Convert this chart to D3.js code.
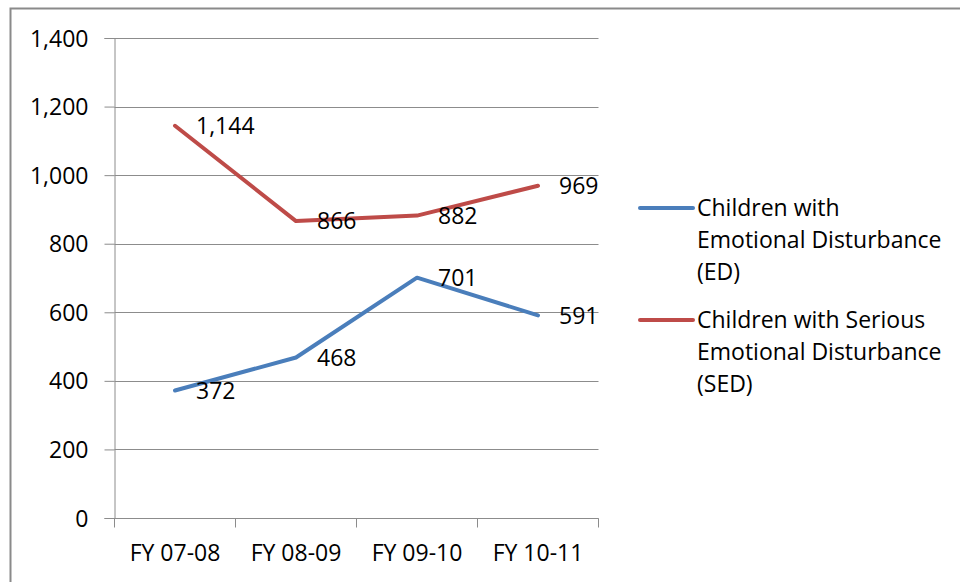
<!DOCTYPE html>
<html>
<head>
<meta charset="utf-8">
<script src="https://cdn.jsdelivr.net/npm/d3@7"></script>
<style>
  html, body { margin: 0; padding: 0; background: #fff; }
  svg { display: block; }
  text { font-family: "Open Sans", "Noto Sans", sans-serif; fill: #000; }
</style>
</head>
<body>
<svg id="chart" width="960" height="582"></svg>
<script>
const categories = ["FY 07-08", "FY 08-09", "FY 09-10", "FY 10-11"];
const seriesNames = [
  ["Children with", "Emotional Disturbance", "(ED)"],
  ["Children with Serious", "Emotional Disturbance", "(SED)"]
];
const edValues = [372, 468, 701, 591];
const sedValues = [1144, 866, 882, 969];
const yTicks = [0, 200, 400, 600, 800, 1000, 1200, 1400];
const seriesColors = ["#4a7ebb", "#be4b48"];

const series = [
  { name: seriesNames[0], values: edValues, color: seriesColors[0] },
  { name: seriesNames[1], values: sedValues, color: seriesColors[1] }
];

const svg = d3.select("#chart");
const FS = 23;

// outer frame
svg.append("path")
  .attr("d", "M10.5,582 L10.5,8.5 L960,8.5")
  .attr("fill", "none").attr("stroke", "#8a8a8a").attr("stroke-width", 2);

const plot = { left: 114.5, right: 598.5, top: 38, bottom: 518 };

const x = d3.scaleBand().domain(categories).range([plot.left, plot.right]).padding(0);
const y = d3.scaleLinear().domain([0, 1400]).range([plot.bottom, plot.top]);

// gridlines
svg.append("g").selectAll("line").data(yTicks).join("line")
  .attr("x1", plot.left).attr("x2", plot.right)
  .attr("y1", d => Math.round(y(d)) + 0.5).attr("y2", d => Math.round(y(d)) + 0.5)
  .attr("stroke", "#8c8c8c").attr("stroke-width", 1);

// y axis
const yAxis = svg.append("g").attr("transform", `translate(${plot.left},0)`)
  .call(d3.axisLeft(y).tickValues(yTicks).tickSize(10).tickPadding(16)
    .tickFormat(d3.format(",")));
yAxis.select(".domain").attr("stroke", "#8c8c8c");
yAxis.selectAll(".tick line").attr("stroke", "#8c8c8c");
yAxis.selectAll(".tick text").attr("font-size", FS).attr("font-family", "Open Sans").attr("fill", "#000").attr("dy", "0.35em");

// x axis
const xAxisG = svg.append("g").attr("transform", `translate(0,${plot.bottom + 0.5})`);
xAxisG.append("line").attr("x1", plot.left).attr("x2", plot.right)
  .attr("stroke", "#8c8c8c");
const bounds = categories.map(c => x(c)).concat([x(categories[categories.length - 1]) + x.bandwidth()]);
xAxisG.selectAll("line.tk").data(bounds).join("line").attr("class", "tk")
  .attr("x1", d => d).attr("x2", d => d).attr("y1", 0).attr("y2", 9)
  .attr("stroke", "#8c8c8c");
xAxisG.selectAll("text").data(categories).join("text")
  .attr("x", d => x(d) + x.bandwidth() / 2).attr("y", 42)
  .attr("text-anchor", "middle").attr("font-size", FS).text(d => d);

// lines
const line = d3.line()
  .x((d, i) => x(categories[i]) + x.bandwidth() / 2)
  .y(d => y(d));

series.forEach(s => {
  svg.append("path").datum(s.values)
    .attr("d", line)
    .attr("fill", "none").attr("stroke", s.color)
    .attr("stroke-width", 4).attr("stroke-linejoin", "round").attr("stroke-linecap", "round");
});

// labels
series.forEach(s => {
  svg.append("g").selectAll("text").data(s.values).join("text")
    .attr("x", (d, i) => x(categories[i]) + x.bandwidth() / 2 + 21)
    .attr("y", d => y(d))
    .attr("dy", "0.36em")
    .attr("font-size", FS)
    .text(d => d3.format(",")(d));
});

// legend
const legendY = [208, 320];
series.forEach((s, k) => {
  const g = svg.append("g");
  g.append("line").attr("x1", 640).attr("x2", 693)
    .attr("y1", legendY[k]).attr("y2", legendY[k])
    .attr("stroke", s.color).attr("stroke-width", 4).attr("stroke-linecap", "round");
  g.selectAll("text").data(s.name).join("text")
    .attr("x", 697).attr("y", (d, i) => legendY[k] + i * 32)
    .attr("dy", "0.36em").attr("font-size", FS).text(d => d);
});
</script>
</body>
</html>
